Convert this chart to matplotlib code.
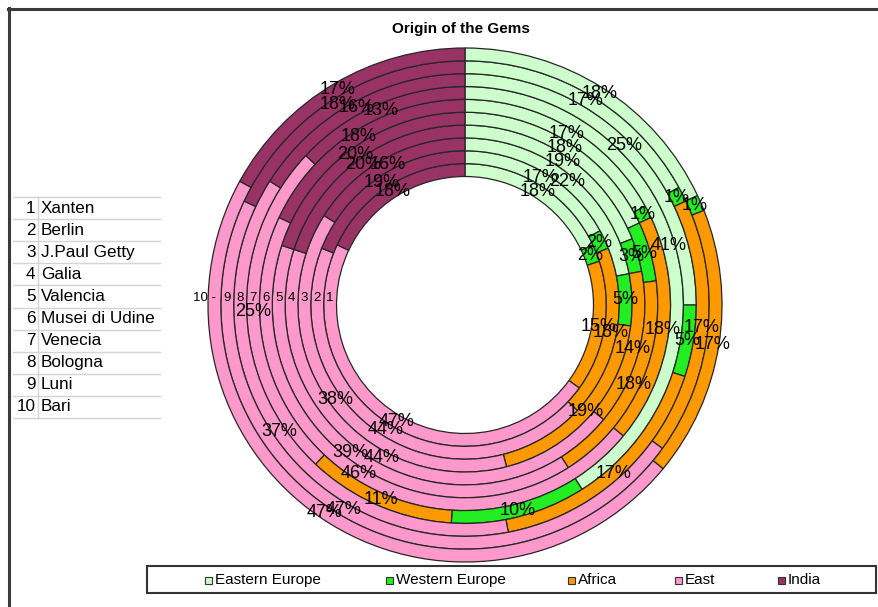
import matplotlib
matplotlib.use('Agg')
import matplotlib.pyplot as plt
import numpy as np
from matplotlib.patches import Rectangle
from matplotlib.lines import Line2D

plt.rcParams['font.family'] = ['Liberation Sans', 'DejaVu Sans']

# ---------------- data ----------------
ring_numbers = ['1', '2', '3', '4', '5', '6', '7', '8', '9', '10']
sites = ['Xanten', 'Berlin', 'J.Paul Getty', 'Galia', 'Valencia',
         'Musei di Udine', 'Venecia', 'Bologna', 'Luni', 'Bari']
origins = ['Eastern Europe', 'Western Europe', 'Africa', 'East', 'India']
eastern_europe = [18, 17, 22, 19, 18, 17, 41, 25, 17, 18]
western_europe = [2, 2, 5, 3, 5, 1, 10, 5, 1, 1]
africa = [15, 18, 19, 14, 18, 18, 11, 17, 17, 17]
east = [47, 44, 38, 44, 39, 46, 25, 37, 47, 47]
india = [18, 19, 16, 20, 20, 18, 13, 16, 18, 17]
title = 'Origin of the Gems'

colors = ['#CCFFCC', '#22EE22', '#FF9900', '#FF99CC', '#993366']

# ---------------- figure ----------------
W, H = 879, 607
fig = plt.figure(figsize=(W / 100, H / 100), dpi=100)


def fx(x):
    return x / W


def fy(y):
    return 1 - y / H


cx, cy, R = 465, 305, 257
ax = fig.add_axes([fx(cx - R), fy(cy + R), 2 * R / W, 2 * R / H])

hole = 0.5
n = len(sites)
width = (1 - hole) / n
series = [eastern_europe, western_europe, africa, east, india]

for i in range(n):
    vals = [s[i] for s in series]
    r_out = hole + (i + 1) * width
    ax.pie(vals, radius=r_out, colors=colors, startangle=90, counterclock=False,
           wedgeprops=dict(width=width, edgecolor='#262626', linewidth=0.9))

for i in range(n):
    vals = [s[i] for s in series]
    r_out = hole + (i + 1) * width
    rmid = r_out - width / 2
    cum = np.cumsum([0] + vals)
    tot = float(sum(vals))
    for j, v in enumerate(vals):
        a = (cum[j] + cum[j + 1]) / 2 / tot * 2 * np.pi
        ax.text(rmid * np.sin(a), rmid * np.cos(a), f'{v}%', ha='center',
                va='center', fontsize=13, color='black', zorder=5)
    # ring numbers at the left
    yoff = 7 / R
    if i == n - 1:
        ax.text(-rmid + 0.005, yoff, ring_numbers[i] + ' -', ha='right', va='center',
                fontsize=9.5, zorder=6)
    else:
        ax.text(-rmid, yoff, ring_numbers[i], ha='center', va='center',
                fontsize=9.5, zorder=6)

ax.set_xlim(-1, 1)
ax.set_ylim(-1, 1)
ax.set_aspect('auto')
ax.axis('off')

# ---------------- title ----------------
fig.text(fx(461), fy(28.5), title, ha='center', va='center', fontsize=11,
         fontweight='bold')

# ---------------- key table on the left ----------------
row_top, row_h = 197, 22.1
for k in range(n + 1):
    y = row_top + k * row_h
    fig.add_artist(Line2D([fx(13), fx(160)], [fy(y), fy(y)], color='#D4D4D4',
                          lw=1.0, transform=fig.transFigure))
fig.add_artist(Line2D([fx(38), fx(38)], [fy(row_top), fy(row_top + n * row_h)],
                      color='#D4D4D4', lw=1.0, transform=fig.transFigure))
for k in range(n):
    yc = row_top + (k + 0.5) * row_h
    fig.text(fx(35.5), fy(yc), ring_numbers[k], ha='right', va='center', fontsize=12.3)
    fig.text(fx(41), fy(yc), sites[k], ha='left', va='center', fontsize=12.3)

# ---------------- legend box ----------------
fig.add_artist(Rectangle((fx(147), fy(593)), fx(876) - fx(147), fy(566) - fy(593),
                         transform=fig.transFigure, facecolor='white',
                         edgecolor='#333333', lw=1.5))
marker_x = [209, 390, 572, 679, 782]
ly = 580
ms = 7
for name, col, mx in zip(origins, colors, marker_x):
    fig.add_artist(Rectangle((fx(mx - ms / 2), fy(ly + ms / 2)), ms / W, ms / H,
                             transform=fig.transFigure, facecolor=col,
                             edgecolor='#333333', lw=0.8))
    fig.text(fx(mx + 6), fy(ly), name, ha='left', va='center', fontsize=11)

# ---------------- outer frame ----------------
fig.add_artist(Line2D([fx(8), fx(879)], [fy(8.5), fy(8.5)], color='#3a3a3a', lw=2.2,
                      transform=fig.transFigure))
fig.add_artist(Line2D([fx(8.5), fx(8.5)], [fy(8), fy(607)], color='#3a3a3a', lw=2.2,
                      transform=fig.transFigure))

fig.savefig('out.png', dpi=100)
